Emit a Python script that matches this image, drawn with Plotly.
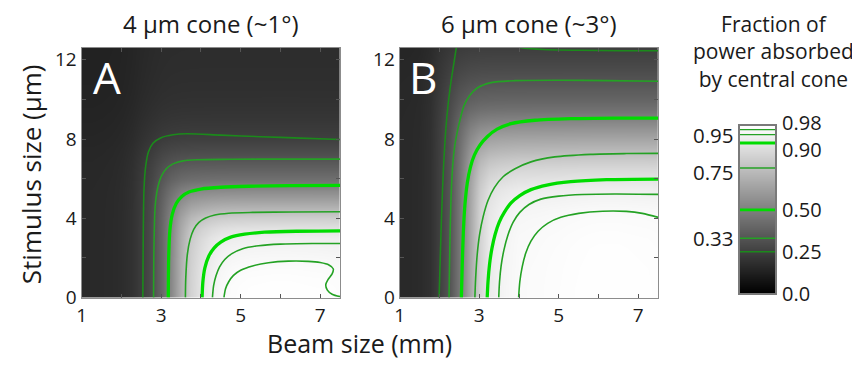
import plotly.graph_objects as go

FONT = "Open Sans"

# ---------------- grid (beam size in mm, stimulus size in µm) ----------------
BEAM_MM = [1.0, 1.25, 1.5, 1.75, 2.0, 2.25, 2.5, 2.75, 3.0, 3.25, 3.5, 3.75, 4.0, 4.25,
           4.5, 4.75, 5.0, 5.25, 5.5, 5.75, 6.0, 6.25, 6.5, 6.75, 7.0, 7.25, 7.5]
STIM_UM = [0.0, 0.5, 1.0, 1.5, 2.0, 2.5, 3.0, 3.5, 4.0, 4.5, 5.0, 5.5, 6.0, 6.5, 7.0,
           7.5, 8.0, 8.5, 9.0, 9.5, 10.0, 10.5, 11.0, 11.5, 12.0, 12.5, 13.0]

# fraction absorbed along the bottom edge (stimulus -> 0), per beam size
A_FRACTION_VS_BEAM = [0.16, 0.16, 0.162, 0.166, 0.175, 0.195, 0.24, 0.30, 0.407, 0.53, 0.69,
                      0.826, 0.893, 0.944, 0.975, 0.988, 0.993, 0.996, 0.997, 0.998, 0.998,
                      0.998, 0.997, 0.996, 0.995, 0.993, 0.99]
B_FRACTION_VS_BEAM = [0.16, 0.162, 0.168, 0.19, 0.253, 0.333, 0.47, 0.65, 0.83, 0.9175, 0.951,
                      0.968, 0.9805, 0.983, 0.985, 0.988, 0.99, 0.993, 0.995, 0.997, 0.998,
                      0.998, 0.998, 0.997, 0.996, 0.995, 0.993]
# fraction absorbed along the right edge (largest beam), per stimulus size
A_FRACTION_VS_STIM = [1.0, 0.999, 0.995, 0.988, 0.975, 0.96, 0.937, 0.886, 0.81, 0.716, 0.62,
                      0.53, 0.436, 0.38, 0.329, 0.285, 0.249, 0.228, 0.212, 0.2, 0.192, 0.186,
                      0.182, 0.179, 0.177, 0.175, 0.174]
B_FRACTION_VS_STIM = [1.0, 1.0, 0.9995, 0.999, 0.998, 0.997, 0.995, 0.991, 0.986, 0.977, 0.96,
                      0.936, 0.896, 0.85, 0.79, 0.719, 0.65, 0.58, 0.507, 0.44, 0.395, 0.36,
                      0.325, 0.295, 0.27, 0.248, 0.23]

# ---------------- iso-fraction contour lines ----------------
LEVELS = [0.25, 0.33, 0.50, 0.75, 0.90, 0.95, 0.98]

A_025_BEAM = [2.54, 2.55, 2.57, 2.61, 2.68, 2.8, 3.0, 3.3, 3.65, 4.5, 5.5, 6.5, 7.5]
A_025_STIM = [0.0, 3.0, 5.5, 6.6, 7.35, 7.8, 8.07, 8.22, 8.27, 8.2, 8.12, 8.05, 7.98]
A_033_BEAM = [2.81, 2.82, 2.85, 2.91, 3.0, 3.13, 3.3, 3.55, 3.9, 4.75, 6.0, 7.5]
A_033_STIM = [0.0, 2.5, 4.6, 5.5, 6.1, 6.5, 6.75, 6.9, 6.96, 6.98, 6.99, 6.99]
A_050_BEAM = [3.18, 3.19, 3.22, 3.28, 3.38, 3.52, 3.7, 4.0, 4.5, 5.2, 6.2, 7.5]
A_050_STIM = [0.0, 2.0, 3.4, 4.2, 4.75, 5.1, 5.33, 5.48, 5.57, 5.62, 5.65, 5.66]
A_075_BEAM = [3.61, 3.62, 3.66, 3.73, 3.82, 3.95, 4.12, 4.35, 4.7, 5.3, 6.3, 7.5]
A_075_STIM = [0.0, 1.0, 2.2, 2.95, 3.45, 3.8, 4.02, 4.17, 4.26, 4.3, 4.32, 4.33]
A_090_BEAM = [4.03, 4.05, 4.1, 4.2, 4.33, 4.5, 4.75, 5.1, 5.6, 6.4, 7.5]
A_090_STIM = [0.0, 0.8, 1.5, 2.1, 2.5, 2.8, 3.05, 3.2, 3.3, 3.35, 3.37]
A_095_BEAM = [4.29, 4.32, 4.38, 4.47, 4.6, 4.78, 5.05, 5.45, 6.0, 6.8, 7.5]
A_095_STIM = [0.0, 0.6, 1.1, 1.55, 1.92, 2.22, 2.47, 2.62, 2.7, 2.73, 2.73]
A_098_BEAM = [4.58, 4.62, 4.7, 4.82, 5.0, 5.3, 5.7, 6.2, 6.7, 7.0, 7.22, 7.33, 7.3, 7.2,
              7.14, 7.18, 7.3, 7.5]
A_098_STIM = [0.0, 0.45, 0.8, 1.12, 1.38, 1.6, 1.76, 1.84, 1.83, 1.77, 1.65, 1.45, 1.2, 0.92,
              0.65, 0.38, 0.17, 0.05]

B_025_BEAM = [1.99, 2.02, 2.05, 2.1, 2.16, 2.22, 2.29, 2.36, 2.43]
B_025_STIM = [0.0, 2.0, 4.0, 6.5, 8.5, 9.8, 10.9, 11.8, 12.7]
B_025_TOP_BEAM = [3.8, 4.1, 4.6, 5.5, 6.5, 7.5]
B_025_TOP_STIM = [12.72, 12.6, 12.52, 12.48, 12.46, 12.46]
B_033_BEAM = [2.24, 2.26, 2.29, 2.33, 2.38, 2.44, 2.52, 2.62, 2.76, 2.95, 3.3, 3.9, 5.0, 6.2, 7.5]
B_033_STIM = [0.0, 2.5, 5.0, 6.6, 7.6, 8.3, 9.0, 9.7, 10.2, 10.58, 10.85, 10.95, 10.97, 10.95,
              10.92]
B_050_BEAM = [2.55, 2.57, 2.6, 2.64, 2.7, 2.78, 2.88, 3.02, 3.2, 3.45, 3.8, 4.4, 5.3, 6.4, 7.5]
B_050_STIM = [0.0, 1.5, 3.3, 4.7, 5.8, 6.6, 7.2, 7.7, 8.12, 8.5, 8.78, 8.95, 9.03, 9.06, 9.06]
B_075_BEAM = [2.89, 2.91, 2.95, 3.01, 3.1, 3.22, 3.38, 3.6, 3.9, 4.3, 4.9, 5.8, 6.7, 7.5]
B_075_STIM = [0.0, 1.0, 2.2, 3.2, 4.1, 4.9, 5.55, 6.1, 6.5, 6.85, 7.1, 7.23, 7.27, 7.28]
B_090_BEAM = [3.2, 3.22, 3.26, 3.32, 3.4, 3.5, 3.63, 3.8, 4.02, 4.3, 4.7, 5.3, 6.2, 7.5]
B_090_STIM = [0.0, 0.8, 1.7, 2.5, 3.2, 3.8, 4.3, 4.78, 5.15, 5.45, 5.68, 5.85, 5.95, 5.98]
B_095_BEAM = [3.49, 3.51, 3.55, 3.62, 3.72, 3.85, 4.02, 4.25, 4.55, 5.0, 5.6, 6.4, 7.5]
B_095_STIM = [0.0, 0.8, 1.6, 2.4, 3.15, 3.8, 4.3, 4.7, 4.97, 5.12, 5.2, 5.23, 5.21]
B_098_BEAM = [3.99, 4.02, 4.08, 4.17, 4.3, 4.48, 4.72, 5.05, 5.5, 6.1, 6.7, 7.1, 7.5]
B_098_STIM = [0.0, 0.8, 1.55, 2.25, 2.85, 3.35, 3.75, 4.05, 4.25, 4.36, 4.35, 4.25, 4.05]

# ---------------- text ----------------
TITLE_A = "4 μm cone (~1°)"
TITLE_B = "6 μm cone (~3°)"
X_TITLE = "Beam size (mm)"
Y_TITLE = "Stimulus size (μm)"
CB_TITLE = "Fraction of<br>power absorbed<br>by central cone"
X_TICKS = [1, 2, 3, 4, 5, 6, 7]
X_TICK_TEXT = ["1", "", "3", "", "5", "", "7"]
Y_TICKS = [0, 2, 4, 6, 8, 10, 12]
Y_TICK_TEXT = ["0", "", "4", "", "8", "", "12"]
CB_LEFT_TICKS = [0.95, 0.75, 0.33]
CB_LEFT_TEXT = ["0.95", "0.75", "0.33"]
CB_RIGHT_TICKS = [0.98, 0.90, 0.50, 0.25, 0.0]
CB_RIGHT_TEXT = ["0.98", "0.90", "0.50", "0.25", "0.0"]

# ---------------- styles ----------------
THICK_GREEN = "#00dc00"
THIN_GREEN = "#24a224"
DARK_GREEN = "#1b8a1b"
LEVEL_STYLE = {0.25: (DARK_GREEN, 1.6), 0.33: (THIN_GREEN, 1.6), 0.50: (THICK_GREEN, 3.3),
               0.75: (THIN_GREEN, 1.6), 0.90: (THICK_GREEN, 3.3), 0.95: (THIN_GREEN, 1.6),
               0.98: (THIN_GREEN, 1.6)}
GRAY = [[0.0, "#000000"], [1.0, "#ffffff"]]
LABEL_NUDGE = {"0.98": 7.0, "0.90": -6.5, "0.75": -3.5}

# the page body adds an 8 px margin, so the figure is 8 px smaller and all
# layout positions below are given in page pixels and shifted back by 8
OFF = 8
FIG_W, FIG_H = 852, 360


def px_x(p):
    return (p - OFF) / FIG_W


def px_y(p):
    return 1 - (p - OFF) / FIG_H


def surface(g, h, p=3.0):
    # soft-minimum of the two edge profiles -> 2-D table for the shading
    return [[(gj ** -p + hi ** -p - 1.0) ** (-1.0 / p) for gj in g] for hi in h]


fig = go.Figure()

panels = [
    ("x", "y", A_FRACTION_VS_BEAM, A_FRACTION_VS_STIM,
     [(0.25, A_025_BEAM, A_025_STIM), (0.33, A_033_BEAM, A_033_STIM),
      (0.50, A_050_BEAM, A_050_STIM), (0.75, A_075_BEAM, A_075_STIM),
      (0.90, A_090_BEAM, A_090_STIM), (0.95, A_095_BEAM, A_095_STIM),
      (0.98, A_098_BEAM, A_098_STIM)]),
    ("x2", "y2", B_FRACTION_VS_BEAM, B_FRACTION_VS_STIM,
     [(0.25, B_025_BEAM, B_025_STIM), (0.25, B_025_TOP_BEAM, B_025_TOP_STIM),
      (0.33, B_033_BEAM, B_033_STIM), (0.50, B_050_BEAM, B_050_STIM),
      (0.75, B_075_BEAM, B_075_STIM), (0.90, B_090_BEAM, B_090_STIM),
      (0.95, B_095_BEAM, B_095_STIM), (0.98, B_098_BEAM, B_098_STIM)]),
]

for xa, ya, g, h, lines in panels:
    fig.add_trace(go.Heatmap(x=BEAM_MM, y=STIM_UM, z=surface(g, h), xaxis=xa, yaxis=ya,
                             zsmooth="best", colorscale=GRAY, zmin=0, zmax=1,
                             showscale=False, hoverinfo="skip"))
    for lv, bx, sy in lines:
        col, wid = LEVEL_STYLE[lv]
        fig.add_trace(go.Scatter(x=bx, y=sy, xaxis=xa, yaxis=ya, mode="lines",
                                 line=dict(color=col, width=wid, shape="spline", smoothing=0.8),
                                 hoverinfo="skip", showlegend=False))

# colour bar drawn as its own small axis
fig.add_trace(go.Heatmap(x=[0, 1], y=[0, 1], z=[[0, 0], [1, 1]], xaxis="x3", yaxis="y3",
                         zsmooth="best", colorscale=GRAY, zmin=0, zmax=1, showscale=False,
                         hoverinfo="skip"))
for lv in LEVELS:
    col, wid = LEVEL_STYLE[lv]
    fig.add_trace(go.Scatter(x=[0, 1], y=[lv, lv], xaxis="x3", yaxis="y3", mode="lines",
                             line=dict(color=col, width=wid * 0.9), hoverinfo="skip",
                             showlegend=False))

frame = dict(showline=True, linecolor="#8c8c8c", linewidth=1.2, mirror="ticks",
             ticks="inside", ticklen=4, tickwidth=1, tickcolor="#555555",
             showgrid=False, zeroline=False,
             tickfont=dict(family=FONT, size=19, color="#1a1a1a"))
ydom = [px_y(308.3), px_y(48.5)]

fig.update_layout(
    width=FIG_W, height=FIG_H, margin=dict(l=0, r=0, t=0, b=0), autosize=False,
    paper_bgcolor="white", plot_bgcolor="white", showlegend=False,
    xaxis=dict(domain=[px_x(77), px_x(337)], range=[1, 7.5], tickvals=X_TICKS,
               ticktext=X_TICK_TEXT, anchor="y", **frame),
    yaxis=dict(domain=ydom, range=[0, 12.6], tickvals=Y_TICKS, ticktext=Y_TICK_TEXT,
               anchor="x", **frame),
    xaxis2=dict(domain=[px_x(397), px_x(657)], range=[1, 7.5], tickvals=X_TICKS,
                ticktext=X_TICK_TEXT, anchor="y2", **frame),
    yaxis2=dict(domain=ydom, range=[0, 12.6], tickvals=Y_TICKS, ticktext=Y_TICK_TEXT,
                anchor="x2", **frame),
    xaxis3=dict(domain=[px_x(739), px_x(775)], range=[0, 1], showticklabels=False,
                ticks="", showline=True, mirror=True, linecolor="#7a7a7a", linewidth=1.5,
                showgrid=False, zeroline=False, anchor="y3"),
    yaxis3=dict(domain=[px_y(304), px_y(130)], range=[0, 1], showticklabels=False,
                ticks="", showline=True, mirror=True, linecolor="#7a7a7a", linewidth=1.5,
                showgrid=False, zeroline=False, anchor="x3"),
)

ann = []
txt = dict(family=FONT, color="#1a1a1a")
ann.append(dict(text=TITLE_A, xref="x domain", x=0.5, yref="paper", y=px_y(23),
                showarrow=False, xanchor="center", yanchor="middle", font=dict(size=24, **txt)))
ann.append(dict(text=TITLE_B, xref="x2 domain", x=0.5, yref="paper", y=px_y(23),
                showarrow=False, xanchor="center", yanchor="middle", font=dict(size=24, **txt)))
ann.append(dict(text="A", xref="paper", x=px_x(103), yref="paper", y=px_y(79),
                showarrow=False, xanchor="center", yanchor="middle",
                font=dict(family=FONT, size=44, color="white")))
ann.append(dict(text="B", xref="paper", x=px_x(420), yref="paper", y=px_y(79),
                showarrow=False, xanchor="center", yanchor="middle",
                font=dict(family=FONT, size=44, color="white")))
ann.append(dict(text=X_TITLE, xref="paper", x=px_x(357), yref="paper", y=px_y(355.5),
                showarrow=False, xanchor="center", yanchor="middle", font=dict(size=25, **txt)))
ann.append(dict(text=Y_TITLE, xref="paper", x=px_x(26), yref="paper", y=px_y(180),
                showarrow=False, xanchor="center", yanchor="middle", textangle=-90,
                font=dict(size=26, **txt)))
ann.append(dict(text=CB_TITLE, xref="paper", x=px_x(773), yref="paper", y=px_y(52),
                showarrow=False, xanchor="center", yanchor="middle", align="center",
                font=dict(size=21, **txt)))
for v, t in zip(CB_LEFT_TICKS, CB_LEFT_TEXT):
    ann.append(dict(text=t, xref="x3 domain", x=0, yref="y3", y=v, xanchor="right",
                    yanchor="middle", xshift=-4, yshift=LABEL_NUDGE.get(t, 0),
                    showarrow=False, font=dict(size=20.5, **txt)))
for v, t in zip(CB_RIGHT_TICKS, CB_RIGHT_TEXT):
    ann.append(dict(text=t, xref="x3 domain", x=1, yref="y3", y=v, xanchor="left",
                    yanchor="middle", xshift=5, yshift=LABEL_NUDGE.get(t, 0),
                    showarrow=False, font=dict(size=20, **txt)))
fig.update_layout(annotations=ann)

fig.write_html("out.html")
